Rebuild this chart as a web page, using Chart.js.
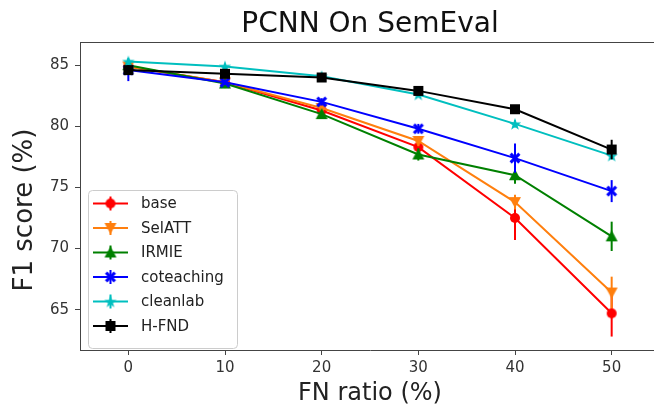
<!DOCTYPE html>
<html><head><meta charset="utf-8">
<script src="https://cdn.jsdelivr.net/npm/chart.js@4.4.1/dist/chart.umd.min.js"></script>
<style>
html,body{margin:0;padding:0;background:#fff;overflow:hidden;width:654px;height:406px}
#wrap{position:absolute;left:0;top:0;width:700px;height:406px}
</style>
</head><body><div id="wrap"><canvas id="c" width="700" height="406"></canvas></div>
<script>
// ---- data ----
const chartTitle = 'PCNN On SemEval';
const xAxisLabel = 'FN ratio (%)';
const yAxisLabel = 'F1 score (%)';
const fnRatio = [0, 10, 20, 30, 40, 50];
const seriesNames = ['base', 'SelATT', 'IRMIE', 'coteaching', 'cleanlab', 'H-FND'];
const baseF1 = [84.9, 83.6, 81.3, 78.3, 72.5, 64.7];
const baseErr = [0.3, 0.2, 0.2, 0.3, 1.8, 1.9];
const selattF1 = [84.9, 83.6, 81.5, 78.8, 73.8, 66.4];
const selattErr = [0.3, 0.2, 0.2, 0.4, 0.6, 1.3];
const irmieF1 = [85.0, 83.5, 81.0, 77.7, 76.0, 71.0];
const irmieErr = [0.3, 0.2, 0.3, 0.5, 0.7, 1.2];
const coteachingF1 = [84.6, 83.6, 82.0, 79.8, 77.4, 74.7];
const coteachingErr = [0.9, 0.2, 0.3, 0.4, 1.2, 0.9];
const cleanlabF1 = [85.3, 84.9, 84.1, 82.6, 80.2, 77.6];
const cleanlabErr = [0.3, 0.2, 0.2, 0.2, 0.3, 0.3];
const hfndF1 = [84.6, 84.3, 84.0, 82.9, 81.4, 78.1];
const hfndErr = [0.4, 0.2, 0.2, 0.2, 0.2, 0.8];
const xTickValues = [0, 10, 20, 30, 40, 50];
const yTickValues = [65, 70, 75, 80, 85];

const seriesValues = [baseF1, selattF1, irmieF1, coteachingF1, cleanlabF1, hfndF1];
const seriesErrors = [baseErr, selattErr, irmieErr, coteachingErr, cleanlabErr, hfndErr];
const seriesColors = ['#ff0000', '#ff7f0e', '#008000', '#0000ff', '#00bfbf', '#000000'];
const seriesShapes = ['circle', 'tridown', 'triup', 'xfill', 'star', 'square'];

// ---- marker images ----
function makeMarker(shape, color) {
  const s = 14, c = document.createElement('canvas');
  c.width = s; c.height = s;
  const g = c.getContext('2d');
  g.fillStyle = color; g.strokeStyle = color;
  const m = s / 2;
  g.beginPath();
  if (shape === 'circle') { g.arc(m, m, 5, 0, Math.PI * 2); }
  else if (shape === 'square') { g.rect(m - 5, m - 5, 10, 10); }
  else if (shape === 'triup') { g.moveTo(m, m - 6); g.lineTo(m + 6, m + 5); g.lineTo(m - 6, m + 5); g.closePath(); }
  else if (shape === 'tridown') { g.moveTo(m, m + 6); g.lineTo(m + 6, m - 5); g.lineTo(m - 6, m - 5); g.closePath(); }
  else if (shape === 'xfill') {
    const a = 5.5, w = 2.2;
    const pts = [[-a, -a + w], [-a + w, -a], [0, -w], [a - w, -a], [a, -a + w], [w, 0], [a, a - w], [a - w, a], [0, w], [-a + w, a], [-a, a - w], [-w, 0]];
    pts.forEach((p, i) => i ? g.lineTo(m + p[0], m + p[1]) : g.moveTo(m + p[0], m + p[1]));
    g.closePath();
  } else if (shape === 'star') {
    for (let i = 0; i < 10; i++) {
      const r = i % 2 ? 2.6 : 6.5, ang = -Math.PI / 2 + i * Math.PI / 5;
      const x = m + r * Math.cos(ang), y = m + 0.5 + r * Math.sin(ang);
      i ? g.lineTo(x, y) : g.moveTo(x, y);
    }
    g.closePath();
  }
  g.fill();
  return c;
}
const markers = seriesShapes.map((sh, i) => makeMarker(sh, seriesColors[i]));

const datasets = seriesNames.map((name, i) => ({
  label: name,
  data: fnRatio.map((x, j) => ({ x: x, y: seriesValues[i][j] })),
  errors: seriesErrors[i],
  borderColor: seriesColors[i],
  backgroundColor: seriesColors[i],
  borderWidth: 2,
  pointStyle: markers[i],
  pointRadius: 6,
  pointHoverRadius: 6,
  tension: 0,
  order: seriesNames.length - i
}));

// ---- plugins ----
const errorBars = {
  id: 'errorBars',
  beforeDatasetDraw(chart, args) {
    const ds = chart.data.datasets[args.index];
    const ys = chart.scales.y, ctx = chart.ctx;
    ctx.save();
    ctx.strokeStyle = ds.borderColor; ctx.lineWidth = 2;
    args.meta.data.forEach((pt, j) => {
      const v = ds.data[j].y, e = ds.errors[j];
      ctx.beginPath();
      ctx.moveTo(pt.x, ys.getPixelForValue(v - e));
      ctx.lineTo(pt.x, ys.getPixelForValue(v + e));
      ctx.stroke();
    });
    ctx.restore();
  }
};
const frame = {
  id: 'frame',
  afterDraw(chart) {
    const a = chart.chartArea, ctx = chart.ctx;
    ctx.save(); ctx.strokeStyle = '#444'; ctx.lineWidth = 1;
    ctx.beginPath(); ctx.moveTo(a.left, a.top + 0.5); ctx.lineTo(a.right, a.top + 0.5); ctx.stroke();
    ctx.restore();
  }
};
const textLabels = {
  id: 'textLabels',
  afterDraw(chart) {
    const a = chart.chartArea, ctx = chart.ctx;
    ctx.save();
    ctx.font = '28px "DejaVu Sans"'; ctx.fillStyle = '#111';
    ctx.textAlign = 'center'; ctx.textBaseline = 'alphabetic';
    ctx.fillText(chartTitle, (a.left + a.right) / 2, 32);
    ctx.font = '24px "DejaVu Sans"'; ctx.fillStyle = '#222';
    ctx.fillText(xAxisLabel, (a.left + a.right) / 2, 400);
    ctx.translate(32, 210); ctx.rotate(-Math.PI / 2);
    ctx.font = '26px "DejaVu Sans"';
    ctx.fillText(yAxisLabel, 0, 0);
    ctx.restore();
  }
};
const boxLegend = {
  id: 'boxLegend',
  afterDraw(chart) {
    const a = chart.chartArea, ctx = chart.ctx;
    const x0 = a.left + 8, w = 149, rowH = 24.5, h = 158, y0 = a.bottom - 2 - h;
    ctx.save();
    ctx.fillStyle = 'rgba(255,255,255,0.8)'; ctx.strokeStyle = '#cccccc'; ctx.lineWidth = 1;
    ctx.beginPath(); ctx.roundRect(x0 + 0.5, y0 + 0.5, w, h, 4); ctx.fill(); ctx.stroke();
    ctx.font = '15px "DejaVu Sans"'; ctx.textBaseline = 'middle';
    chart.data.datasets.forEach((ds, i) => {
      const cy = y0 + 13.5 + i * rowH;
      ctx.strokeStyle = ds.borderColor; ctx.lineWidth = 2;
      ctx.beginPath(); ctx.moveTo(x0 + 5, cy); ctx.lineTo(x0 + 40, cy); ctx.stroke();
      ctx.beginPath(); ctx.moveTo(x0 + 22.5, cy - 7); ctx.lineTo(x0 + 22.5, cy + 7); ctx.stroke();
      ctx.drawImage(markers[i], x0 + 22.5 - 7, cy - 7);
      ctx.fillStyle = '#222';
      ctx.fillText(ds.label, x0 + 53, cy + 1);
    });
    ctx.restore();
  }
};

const tickFont = { family: 'DejaVu Sans', size: 15 };
new Chart(document.getElementById('c'), {
  type: 'line',
  data: { datasets: datasets },
  plugins: [errorBars, frame, textLabels, boxLegend],
  options: {
    responsive: false, animation: false,
    layout: { padding: { left: 0, right: 40, top: 42, bottom: 0 } },
    plugins: {
      legend: { display: false }, tooltip: { enabled: false }, title: { display: false }
    },
    scales: {
      x: {
        type: 'linear', min: -5, max: 55,
        afterBuildTicks: s => { s.ticks = xTickValues.map(v => ({ value: v })); },
        afterFit: s => { s.height = 56; },
        grid: { drawOnChartArea: false, drawTicks: true, tickLength: 5, tickColor: '#444' },
        border: { display: true, color: '#444' },
        ticks: { font: tickFont, color: '#333', padding: 4, maxRotation: 0 },
        title: { display: false }
      },
      y: {
        type: 'linear', min: 61.7, max: 86.9,
        afterBuildTicks: s => { s.ticks = yTickValues.map(v => ({ value: v })); },
        afterFit: s => { s.width = 80; },
        grid: { drawOnChartArea: false, drawTicks: true, tickLength: 5, tickColor: '#444' },
        border: { display: true, color: '#444' },
        ticks: { font: tickFont, color: '#333', padding: 6 },
        title: { display: false }
      }
    }
  }
});
</script></body></html>
